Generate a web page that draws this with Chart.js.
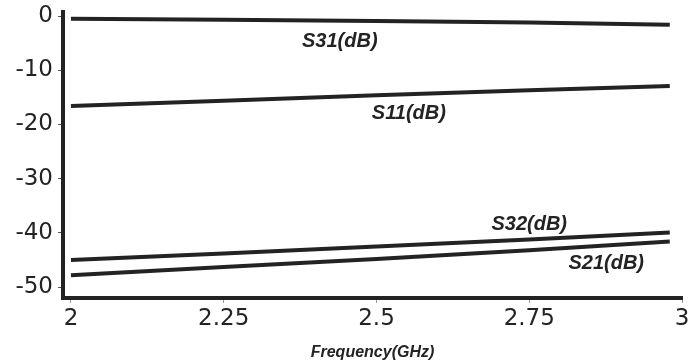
<!DOCTYPE html>
<html>
<head>
<meta charset="utf-8">
<script src="https://cdn.jsdelivr.net/npm/chart.js@4.4.1/dist/chart.umd.min.js"></script>
<style>
  html, body { margin: 0; padding: 0; background: #fff; }
  #wrap { width: 688px; height: 362px; }
</style>
</head>
<body>
<div id="wrap"><canvas id="sChart" width="688" height="362"></canvas></div>
<script>
// frequency points (GHz)
var freq = [2, 2.25, 2.5, 2.75, 2.98];

// S-parameters in dB
var s31 = [-0.5, -0.7, -0.9, -1.2, -1.6];
var s11 = [-16.6, -15.6, -14.6, -13.7, -12.9];
var s32 = [-45.0, -43.8, -42.5, -41.2, -39.9];
var s21 = [-47.8, -46.3, -44.8, -43.2, -41.6];

var xTicks = [2, 2.25, 2.5, 2.75, 3];
var yTicks = [0, -10, -20, -30, -40, -50];

// curve names, placed at [freq, dB]
var curveLabels = [
  { text: 'S31(dB)', x: 2.44, y: -4.6 },
  { text: 'S11(dB)', x: 2.553, y: -18.0 },
  { text: 'S32(dB)', x: 2.75, y: -38.5 },
  { text: 'S21(dB)', x: 2.876, y: -45.7 }
];

function toPoints(ys) {
  return freq.map(function (f, i) { return { x: f, y: ys[i] }; });
}

function lineSet(name, ys) {
  return {
    label: name,
    data: toPoints(ys),
    borderColor: '#232323',
    borderWidth: 4,
    pointRadius: 0,
    fill: false,
    tension: 0
  };
}

var labelPlugin = {
  id: 'curveLabels',
  afterDatasetsDraw: function (chart) {
    var ctx = chart.ctx;
    var xs = chart.scales.x, ys = chart.scales.y;
    ctx.save();
    ctx.fillStyle = '#232323';
    ctx.font = 'italic bold 20px "Liberation Sans", Arial, sans-serif';
    ctx.textAlign = 'center';
    ctx.textBaseline = 'middle';
    curveLabels.forEach(function (l) {
      ctx.fillText(l.text, xs.getPixelForValue(l.x), ys.getPixelForValue(l.y));
    });
    ctx.restore();
  }
};

var tickFont = { family: '"DejaVu Sans", sans-serif', size: 23 };

new Chart(document.getElementById('sChart').getContext('2d'), {
  type: 'line',
  data: {
    datasets: [
      lineSet('S31(dB)', s31),
      lineSet('S11(dB)', s11),
      lineSet('S32(dB)', s32),
      lineSet('S21(dB)', s21)
    ]
  },
  options: {
    responsive: false,
    animation: false,
    layout: { padding: { top: 12, right: 6, left: 0, bottom: 0 } },
    plugins: {
      legend: { display: false },
      tooltip: { enabled: false }
    },
    scales: {
      x: {
        type: 'linear',
        min: 1.987,
        max: 3,
        afterBuildTicks: function (s) { s.ticks = xTicks.map(function (v) { return { value: v }; }); },
        afterFit: function (s) { s.height = 64; s.paddingRight = 0; s.paddingLeft = 0; },
        grid: { drawOnChartArea: false, drawTicks: true, tickLength: 5, color: '#999', lineWidth: 1 },
        border: { color: '#232323', width: 4 },
        ticks: {
          color: '#232323',
          font: tickFont,
          padding: 2,
          maxRotation: 0,
          autoSkip: false,
          callback: function (v) { return String(v); }
        },
        title: {
          display: true,
          text: 'Frequency(GHz)',
          color: '#232323',
          font: { family: '"Liberation Sans", Arial, sans-serif', size: 16, style: 'italic', weight: 'bold' },
          padding: { top: 1, bottom: 0 }
        }
      },
      y: {
        type: 'linear',
        min: -52,
        max: 0.75,
        afterBuildTicks: function (s) { s.ticks = yTicks.map(function (v) { return { value: v }; }); },
        afterFit: function (s) { s.width = 63; s.paddingTop = 0; s.paddingBottom = 0; },
        grid: { drawOnChartArea: false, drawTicks: true, tickLength: 5, color: '#555', lineWidth: 1 },
        border: { color: '#232323', width: 4 },
        ticks: {
          color: '#232323',
          font: tickFont,
          padding: 5,
          autoSkip: false,
          callback: function (v) { return String(v); }
        }
      }
    }
  },
  plugins: [labelPlugin]
});
</script>
</body>
</html>
